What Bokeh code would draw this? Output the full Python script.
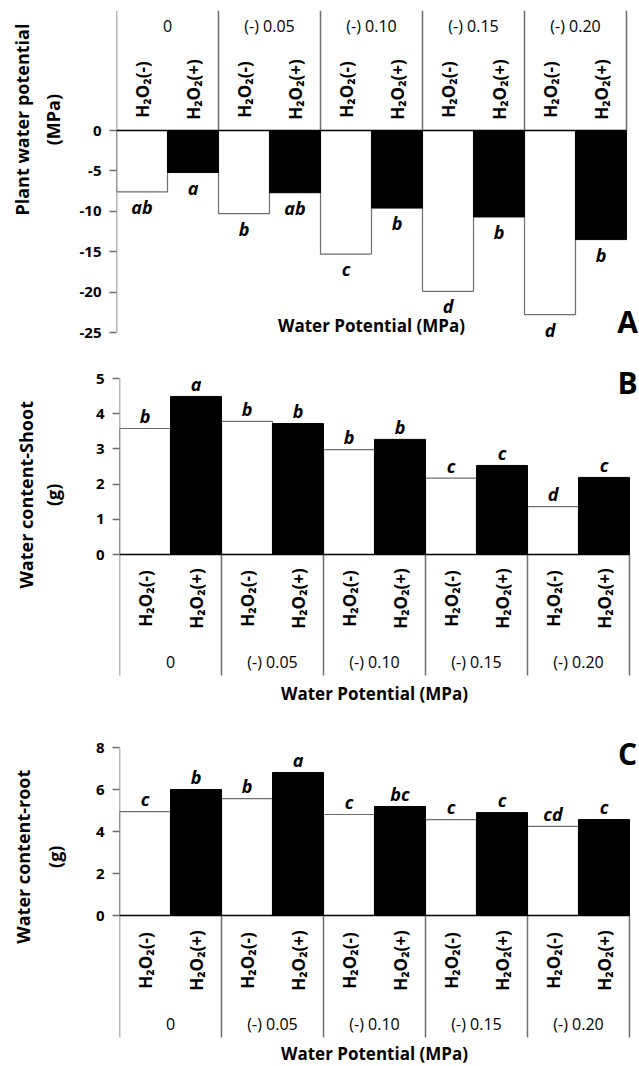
import math
from bokeh.plotting import figure
from bokeh.models import ColumnDataSource, FixedTicker
from bokeh.layouts import column, row
from bokeh.core.properties import value
from bokeh.embed import file_html
from bokeh.resources import INLINE

# ---------------- data ----------------
groups = ["0", "(-) 0.05", "(-) 0.10", "(-) 0.15", "(-) 0.20"]
treatments = ["H\u2082O\u2082(-)", "H\u2082O\u2082(+)"]

plant_wp_minus = [-7.6, -10.3, -15.3, -19.9, -22.8]
plant_wp_plus = [-5.2, -7.7, -9.6, -10.7, -13.5]
plant_wp_let_minus = ["ab", "b", "c", "d", "d"]
plant_wp_let_plus = ["a", "ab", "b", "b", "b"]

shoot_minus = [3.58, 3.78, 2.98, 2.17, 1.36]
shoot_plus = [4.49, 3.72, 3.27, 2.53, 2.19]
shoot_let_minus = ["b", "b", "b", "c", "d"]
shoot_let_plus = ["a", "b", "b", "c", "c"]

root_minus = [4.95, 5.57, 4.81, 4.57, 4.24]
root_plus = [6.0, 6.81, 5.19, 4.90, 4.57]
root_let_minus = ["c", "b", "c", "c", "cd"]
root_let_plus = ["b", "a", "bc", "c", "c"]

yticks_a = [-25, -20, -15, -10, -5, 0]
yticks_b = [0, 1, 2, 3, 4, 5]
yticks_c = [0, 2, 4, 6, 8]

x_title = "Water Potential (MPa)"
y_titles = [["Plant water potential", "(MPa)"],
            ["Water content-Shoot", "(g)"],
            ["Water content-root", "(g)"]]
panel_letters = ["A", "B", "C"]

FONT = "Open Sans"
ORIGIN = 0       # page offset of the layout (observed)
W = 638          # total width
TW = 72          # width of the y-title strip
GRAY = "#6e6e6e"
PAGE_RIGHT = ORIGIN + W


def title_strip(fig_top, height, lines, xs, y_center):
    t = figure(width=TW, height=height, x_range=(ORIGIN, ORIGIN + TW),
               y_range=(fig_top + height, fig_top), output_backend="svg",
               toolbar_location=None, tools="", min_border=0)
    t.outline_line_color = None
    t.axis.visible = False
    t.grid.visible = False
    src = ColumnDataSource(dict(x=xs, y=[y_center] * len(lines), s=lines))
    t.text(x="x", y="y", text="s", source=src, angle=math.pi / 2, text_align="center",
           text_baseline="middle", text_font=value(FONT), text_font_style="bold",
           text_font_size="18px", text_color="black")
    return t


def panel(fig_top, height, L, R, T, B, zero, ppu, ticks, minus, plus, let_minus, let_plus,
          letter, letter_pos, sep_bottom, h2o2_y, group_y, xtitle_y, negative):
    ppx = (R - L) / 10.0

    def py(page_y):
        return (zero - page_y) / ppu

    def pxx(page_x):
        return (page_x - L) / ppx

    y_end = py(T)
    y_start = py(B)
    p = figure(width=W - TW, height=height, x_range=(0, pxx(PAGE_RIGHT)),
               y_range=(y_start, y_end), output_backend="svg",
               toolbar_location=None, tools="")
    p.min_border_left = L - (ORIGIN + TW)
    p.min_border_right = 0
    p.min_border_top = T - fig_top
    p.min_border_bottom = fig_top + height - B
    p.outline_line_color = None
    p.xgrid.visible = False
    p.ygrid.visible = False
    p.xaxis.visible = False
    p.background_fill_color = "white"
    p.border_fill_color = "white"

    ya = p.yaxis[0]
    ya.ticker = FixedTicker(ticks=ticks)
    ya.major_label_overrides = {t: str(t) for t in ticks}
    ya.axis_line_color = None
    ya.major_tick_line_color = GRAY
    ya.major_tick_line_width = 1.5
    ya.major_tick_out = 7
    ya.major_tick_in = 0
    ya.minor_tick_line_color = None
    ya.major_label_text_font = FONT
    ya.major_label_text_font_style = "bold"
    ya.major_label_text_font_size = "15px"
    ya.major_label_text_color = "black"
    ya.major_label_standoff = 8

    n = len(groups)
    xm = [2 * i + 0.5 for i in range(n)]
    xp = [2 * i + 1.5 for i in range(n)]
    p.vbar(x=xm, width=1, bottom=0, top=minus, fill_color="white", line_color=GRAY, line_width=1.2)
    p.vbar(x=xp, width=1, bottom=0, top=plus, fill_color="black", line_color="black", line_width=1)

    sep_x = [2 * i for i in range(n + 1)]
    if negative:
        p.segment(x0=sep_x[1:], x1=sep_x[1:], y0=[0] * n, y1=[y_end] * n, line_color=GRAY, line_width=1.5)
        p.segment(x0=[0], x1=[0], y0=[min(ticks)], y1=[y_end], line_color=GRAY, line_width=1.5)
    else:
        p.segment(x0=sep_x, x1=sep_x, y0=[0] * (n + 1), y1=[py(sep_bottom)] * (n + 1),
                  line_color=GRAY, line_width=1.5)
        p.segment(x0=[0], x1=[0], y0=[0], y1=[max(ticks)], line_color=GRAY, line_width=1.5)
    p.segment(x0=[0], x1=[2 * n], y0=[0], y1=[0], line_color="black", line_width=1.5)

    tsrc = ColumnDataSource(dict(x=xm + xp, t=[treatments[0]] * n + [treatments[1]] * n))
    p.text(x="x", y=py(h2o2_y), text="t", source=tsrc, angle=math.pi / 2,
           text_align="center", text_baseline="middle", text_font=value(FONT),
           text_font_style="bold", text_font_size="17px", text_color="black")
    gsrc = ColumnDataSource(dict(x=[2 * i + 1 for i in range(n)], g=groups))
    p.text(x="x", y=py(group_y), text="g", source=gsrc, text_align="center",
           text_baseline="middle", text_font=value(FONT), text_font_size="16px",
           text_color="black")

    if negative:
        ys = [v - 3 / ppu for v in minus + plus]
        base = "top"
    else:
        ys = [v + 0.5 / ppu for v in minus + plus]
        base = "bottom"
    lsrc = ColumnDataSource(dict(x=xm + xp, y=ys, l=let_minus + let_plus))
    p.text(x="x", y="y", text="l", source=lsrc, text_align="center", text_baseline=base,
           text_font=value(FONT), text_font_style="bold italic", text_font_size="18px",
           text_color="black")

    p.text(x=[n], y=[py(xtitle_y)], text=[x_title], text_align="center",
           text_baseline="middle", text_font=value(FONT), text_font_style="bold",
           text_font_size="17px", text_color="black")
    p.text(x=[pxx(letter_pos[0])], y=[py(letter_pos[1])], text=[letter],
           text_align="center", text_baseline="middle", text_font=value(FONT),
           text_font_style="bold", text_font_size="30px", text_color="black")
    return p


ta = title_strip(0, 350, y_titles[0], [21, 52], 115)
pa = panel(0, 350, 116, 626, 10, 342, 130, 8.08, yticks_a, plant_wp_minus, plant_wp_plus,
           plant_wp_let_minus, plant_wp_let_plus, panel_letters[0], (627, 321), None, 89, 25, 325, True)
tb = title_strip(350, 370, y_titles[1], [25, 52], 492)
pb = panel(350, 370, 119, 629, 360, 710, 554, 35.2, yticks_b, shoot_minus, shoot_plus,
           shoot_let_minus, shoot_let_plus, panel_letters[1], (627, 382), 675, 598, 661, 693, False)
tc = title_strip(720, 344, y_titles[2], [22, 54], 850)
pc = panel(720, 344, 119, 629, 730, 1064, 915, 21.0, yticks_c, root_minus, root_plus,
           root_let_minus, root_let_plus, panel_letters[2], (627, 753), 1037, 960, 1023, 1053, False)

layout = column(row(ta, pa, spacing=0), row(tb, pb, spacing=0), row(tc, pc, spacing=0), spacing=0)
open("out.html", "w").write(file_html(layout, INLINE))
